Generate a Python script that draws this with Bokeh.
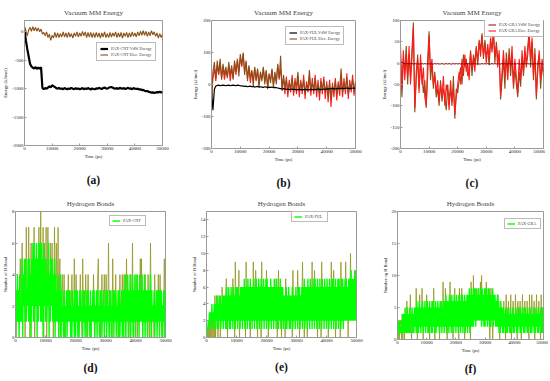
from bokeh.plotting import figure
from bokeh.layouts import row, column
from bokeh.models import Legend, LegendItem, FixedTicker, LinearAxis, Range1d
from bokeh.embed import file_html
from bokeh.resources import INLINE

# ---------------- data ----------------
time_ps = list(range(0, 50001, 500))      # energy sampling (ps)
hb_time_ps = list(range(0, 50000, 200))   # H-bond sampling (ps)

x_ticks = [0, 10000, 20000, 30000, 40000, 50000]
x_tick_labels = ["0", "10000", "20000", "30000", "40000", "50000"]

# (a) PAX-CNT energies (kJ/mol)
a_vdw = [20, -150, -300, -430, -560, -610, -630, -645, -620, -650, -630,
         -645, -625, -990, -1005, -990, -1000, -980, -960, -975, -940,
         -955, -970, -990, -1000, -985, -1005, -995, -1010, -990, -1000,
         -1010, -995, -1005, -985, -1000, -1010, -990, -1005, -995, -1010,
         -1000, -990, -1010, -995, -1005, -990, -1000, -1015, -995, -1005,
         -1010, -995, -1000, -985, -995, -1005, -990, -980, -995, -1000,
         -985, -975, -970, -985, -995, -1000, -990, -1005, -985, -995,
         -1000, -990, -1005, -995, -985, -1000, -995, -1010, -990, -1000,
         -1005, -1000, -1015, -1010, -1025, -1020, -1035, -1045, -1040, -1055,
         -1060, -1070, -1065, -1075, -1070, -1060, -1065, -1055, -1065, -1060]
a_elec = [100, 20, -70, 30, 80, 10, 90, 20, 80, 10, 70,
          0, 50, -40, -10, -70, 0, -100, -40, -150, -60,
          -110, -10, -100, -20, -100, -30, -90, 0, -90, -20,
          -100, -10, -90, -30, -110, -20, -80, 0, -90, -20,
          -80, 10, -70, 0, -100, -10, -90, -10, -100, -20,
          -100, -10, -90, -20, -110, -20, -90, 0, -100, -30,
          -100, -10, -90, -20, -80, 0, -100, -20, -90, -10,
          -110, -20, -80, -10, -100, -20, -90, 0, -80, -20,
          -90, 0, -70, 10, -60, 20, -60, 10, -80, 0,
          -70, 20, -50, 0, -80, -20, -110, -30, -100, -40]

# (b) PAX-FUL energies
b_vdw = [-20, -80, -15, -5, -3, -2, -4, -3, -2, -3, -4,
         -3, -2, -4, -3, -2, -3, -4, -2, -3, -4,
         -4, -5, -6, -5, -7, -6, -5, -7, -6, -8,
         -7, -6, -8, -7, -8, -9, -7, -8, -9, -8,
         -9, -8, -10, -9, -10, -11, -12, -13, -14, -13,
         -14, -15, -14, -16, -15, -14, -16, -15, -17, -16,
         -15, -16, -17, -16, -15, -16, -17, -16, -15, -16,
         -15, -16, -15, -14, -15, -16, -15, -14, -15, -14,
         -13, -14, -13, -12, -13, -14, -13, -12, -13, -12,
         -12, -13, -12, -11, -12, -13, -12, -11, -12, -11]
b_elec = [-60, 40, 70, 20, 75, 35, 80, 15, 65, 30, 55,
          20, 70, 30, 60, 15, 75, 40, 80, 25, 95,
          60, 100, 30, 75, 10, 60, 20, 45, -5, 55,
          15, 50, -10, 40, 10, 55, 0, 45, -15, 35,
          5, 50, -10, 40, 0, 65, 15, 90, -20, 30,
          -10, 15, -20, 5, -15, 20, -25, 10, -5, 40,
          -20, 5, -15, 15, -30, 0, -10, 45, -20, 5,
          -15, 20, -25, 0, -30, 10, -15, 15, -25, 0,
          -35, 5, -45, -5, -20, 10, -30, 0, -15, 50,
          -25, 5, -15, 20, -30, 0, -10, 15, -20, 5]
b_elec_red = [-40, 20, 50, 10, 60, 30, 70, 20, 55, 15, 45,
              25, 60, 10, 50, 20, 65, 30, 75, 40, 85,
              55, 95, 40, 70, 20, 55, 5, 40, 15, 50,
              10, 45, 0, 35, 20, 50, 10, 40, -5, 30,
              15, 45, 0, 35, 10, 60, 20, 50, -10, 20,
              -30, 25, -40, 15, -25, 30, -35, 20, -30, 25,
              -40, 15, -30, 30, -45, 10, -25, 25, -35, 20,
              -30, 30, -40, 15, -50, 20, -30, 25, -45, 10,
              -55, 15, -70, 5, -40, 20, -50, 10, -35, 25,
              -40, 20, -30, 35, -45, 15, -25, 30, -35, 10]

# (c) PAX-GRA energies
c_vdw = [3, 1, 0, -1, -2, -1, -2, -1, -1, -2, -1,
         -2, -1, -2, -2, -1, -2, -1, -2, -1, -2,
         -1, -2, -2, -1, -2, -1, -2, -2, -1, -2,
         -2, -1, -2, -1, -2, -2, -1, -2, -1, -2,
         -1, -2, -1, -2, -2, -1, -2, -1, -2, -1,
         -2, -1, -2, -1, -2, -2, -1, -2, -1, -2,
         -1, -2, -2, -1, -2, -1, -2, -1, -2, -2,
         -1, -2, -1, -2, -2, -1, -2, -1, -2, -1,
         -2, -1, -2, -2, -1, -2, -1, -2, -1, -2,
         -1, -2, -2, -1, -2, -1, -2, -1, -2, -2]
c_elec = [40, -60, 30, -40, 20, -30, 40, -50, 10, 85, -105,
          -20, 10, -70, 20, -50, -10, -80, -100, -30, 65,
          -20, 10, -50, -30, -70, -40, -90, -50, -80, -30,
          -100, -50, -70, -110, -40, -90, -60, -120, -80, -50,
          -20, -50, 10, -30, 20, -20, 0, -40, 25, -10,
          10, -20, 35, 5, 50, 15, 65, 20, 40, 0,
          45, 10, 60, 25, 70, 15, 40, -10, 30, -75,
          -20, 30, -30, 10, -40, 20, -10, 40, -50, 10,
          -30, -70, 10, -40, 30, -20, 40, -10, 20, 65,
          10, 60, -30, 20, -75, -20, 30, -40, 10, -20]
c_elec_brown = [20, -80, 10, -20, 40, -50, 20, -30, 30, 95, -115,
                -40, 20, -60, 0, -30, -70, -40, -105, 10, 75,
                -40, 0, -60, -20, -80, -60, -100, -40, -90, -60,
                -80, -110, -50, -90, -60, -100, -30, -130, -60, -70,
                -40, -10, -50, 20, -10, 10, -30, -20, 30, -30,
                20, 0, 40, -5, 55, 30, 70, 10, 55, 20,
                30, -5, 50, 35, 75, 0, 50, 10, 20, -85,
                -40, 10, -60, 25, -20, 35, -30, 20, -60, -10,
                -50, -80, -20, -55, 10, -30, 20, 0, 40, 75,
                -10, 50, -40, 35, -85, 0, 20, -60, 0, -30]

# H-bond counts, one hex digit per sample (200 ps apart)
d_green_str = ("0314130412" "1504251513" "2515140526" "1615260516" "2616150625"
               "1514260415" "2514150413" "1403140312" "0302130313" "1302031203"
               "0313020313" "1203130213" "0312030213" "1302130312" "0313021302"
               "1303120313" "0213031302" "1303021303" "0314031403" "1403140314"
               "0314130413" "1403140313" "0313140312" "1302130313" "0313021303")
d_olive_str = ("2032232352" "3633330373" "3373036333" "3703363337" "3383337063"
               "3703733363" "3630373363" "3703503342" "2420222242" "2202422252"
               "2422202242" "2052222420" "2422202222" "4202222452" "2202422242"
               "2422262022" "2052222420" "2202422242" "2420252222" "2042262022"
               "2420222252" "5202224222" "2420262022" "2042222242" "2422202252")
e_green_str = ("0112131324" "1324142514" "1525142515" "2516152615" "1625162516"
               "2616251626" "1627162617" "2617261627" "1627162716" "2716271627"
               "1726162716" "2617261726" "1627162615" "2516152615" "1526152516"
               "2516261526" "1627162617" "2617261627" "1726172617" "2617261726"
               "1726172617" "2716271627" "1726172716" "2727262727" "2827272827")
e_olive_str = ("1010202030" "2030502250" "3340436232" "4347306444" "4444734094"
               "4443804444" "4444409444" "4340444494" "4484404444" "4094444444"
               "8440444444" "4444447404" "8444404444" "4074444444" "4440844444"
               "4484404444" "9440444404" "4444449444" "8444404444" "4094444444"
               "4440444494" "4484404444" "4440944444" "4494440444" "a444444484")
f_green_str = ("0213121314" "1415141514" "1514251415" "2516151625" "1526152615"
               "2615162516" "1625161526" "2516261526" "1627162617" "2617261726"
               "1726172617" "2716271627" "1728172827" "2838283738" "3738283728"
               "2837283827" "2738273726" "2726151625" "1514251415" "2415142514"
               "1425141524" "1514251415" "2415142514" "1425141524" "1514251415")
f_olive_str = ("2030232040" "3303336333" "3373033333" "3383033373" "3383033333"
               "7333303333" "3383033333" "3303333393" "3383303333" "9333303383"
               "3333308333" "8333303333" "3333309333" "a333333383" "3393a33333"
               "3393333303" "8330333333" "3373306353" "3363307333" "6333703363"
               "3373306353" "6303733363" "3363307333" "7333603373" "3363307353")

d_green = [int(c, 16) for c in d_green_str]
d_olive = [int(c, 16) for c in d_olive_str]
e_green = [int(c, 16) for c in e_green_str]
e_olive = [int(c, 16) for c in e_olive_str]
f_green = [int(c, 16) for c in f_green_str]
f_olive = [int(c, 16) for c in f_olive_str]

# ---------------- styling ----------------
FONT = "Liberation Serif"
GRAY = "#9a9a9a"
BROWN = "#8a4f16"
RED = "#ff1a1a"
DARKRED = "#8b0000"
GREEN = "#00ff00"
OLIVE = "#94961e"


def make_fig(title, ylabel, yr, yticks, fw, fh, bl, br, bt, bb, panel, pstand):
    p = figure(frame_width=fw, frame_height=fh,
               min_border_left=bl, min_border_right=br,
               min_border_top=bt, min_border_bottom=bb,
               x_range=Range1d(0, 50000), y_range=Range1d(*yr),
               output_backend="svg", toolbar_location=None, title=title)
    p.title.text_font = FONT
    p.title.text_font_style = "normal"
    p.title.text_font_size = "7px"
    p.title.align = "center"
    p.title.standoff = 8
    p.outline_line_color = GRAY
    p.xgrid.visible = False
    p.ygrid.visible = False
    p.xaxis.ticker = FixedTicker(ticks=x_ticks)
    p.xaxis.major_label_overrides = dict(zip(x_ticks, x_tick_labels))
    p.yaxis.ticker = FixedTicker(ticks=yticks)
    p.yaxis.major_label_overrides = {v: str(v) for v in yticks}
    p.xaxis.axis_label = "Time (ps)"
    p.yaxis.axis_label = ylabel
    for ax in (p.xaxis, p.yaxis):
        ax.axis_line_color = GRAY
        ax.major_tick_line_color = GRAY
        ax.major_tick_in = 2
        ax.major_tick_out = 0
        ax.minor_tick_line_color = None
        ax.major_label_text_font = FONT
        ax.major_label_text_font_size = "4.9px"
        ax.major_label_text_color = "#1a1a1a"
        ax.axis_label_text_font = FONT
        ax.axis_label_text_font_size = "4.5px"
        ax.axis_label_text_font_style = "normal"
        ax.axis_label_text_color = "#1a1a1a"
        ax.major_label_standoff = 1
        ax.axis_label_standoff = 1
    # panel letter as the label of an extra, tick-less axis below
    lab = LinearAxis(axis_label=panel, ticker=FixedTicker(ticks=[]),
                     axis_line_color=None, major_tick_line_color=None,
                     minor_tick_line_color=None, major_tick_in=0,
                     major_tick_out=0, major_label_standoff=0,
                     major_label_text_font_size="0px",
                     axis_label_standoff=pstand,
                     axis_label_text_font=FONT,
                     axis_label_text_font_size="11.5px",
                     axis_label_text_font_style="bold",
                     axis_label_text_color="#111111")
    p.add_layout(lab, "below")
    return p


def add_legend(p, items, loc, pad=3):
    lg = Legend(items=[LegendItem(label=l, renderers=[r]) for l, r in items],
                location=loc)
    lg.label_text_font = FONT
    lg.label_text_font_size = "4.2px"
    lg.label_height = 5
    lg.glyph_height = 5
    lg.glyph_width = 8
    lg.label_standoff = 3
    lg.spacing = 1
    lg.padding = pad
    lg.margin = 0
    lg.border_line_color = "#777777"
    lg.border_line_width = 0.6
    p.add_layout(lg)


# (a)
pa = make_fig("Vacuum MM Energy", "Energy (kJ/mol)", (-2000, 200),
              [-2000, -1500, -1000, -500, 0], 138, 125, 17, 27, 20, 40, "(a)", 12)
ra_e = pa.line(time_ps, a_elec, line_color=BROWN, line_width=1.1)
ra_v = pa.line(time_ps, a_vdw, line_color="black", line_width=2.2)
add_legend(pa, [("PAX-CNT VdW Energy", ra_v), ("PAX-CNT Elec. Energy", ra_e)], (72, 84))

# (b)
pb = make_fig("Vacuum MM Energy", "Energy (kJ/mol)", (-200, 200),
              [-200, -100, 0, 100, 200], 144, 128, 18, 23, 17, 40, "(b)", 12)
pb.line(time_ps, b_elec_red, line_color=RED, line_width=1.1)
rb_e = pb.line(time_ps, b_elec, line_color=BROWN, line_width=1.1)
rb_v = pb.line(time_ps, b_vdw, line_color="black", line_width=1.2)
add_legend(pb, [("PAX-FUL VdW Energy", rb_v), ("PAX-FUL Elec. Energy", rb_e)], (74, 103))

# (c)
pc = make_fig("Vacuum MM Energy", "Energy (kJ/mol)", (-200, 100),
              [-200, -150, -100, -50, 0, 50, 100], 143, 128, 22, 2, 17, 40, "(c)", 12)
pc.line(time_ps, c_elec_brown, line_color=BROWN, line_width=1.1)
rc_e = pc.line(time_ps, c_elec, line_color=RED, line_width=1.1)
rc_v = pc.line(time_ps, c_vdw, line_color=DARKRED, line_width=1)
add_legend(pc, [("PAX-GRA VdW Energy", rc_v), ("PAX-GRA Elec. Energy", rc_e)], (84, 111))

# (d)
pd_ = make_fig("Hydrogen Bonds", "Number of H Bond", (0, 8),
               [0, 2, 4, 6, 8], 150, 126, 9, 23, 20, 34, "(d)", 8)
pd_.line(hb_time_ps, d_olive, line_color=OLIVE, line_width=0.8)
rd = pd_.line(hb_time_ps, d_green, line_color=GREEN, line_width=1.4)
add_legend(pd_, [("PAX-CNT", rd)], (94, 111), pad=2)

# (e)
pe = make_fig("Hydrogen Bonds", "Number of H Bond", (0, 15),
              [0, 2, 4, 6, 8, 10, 12, 14], 150, 126, 12, 23, 22, 32, "(e)", 7)
pe.line(hb_time_ps, e_olive, line_color=OLIVE, line_width=0.8)
re_ = pe.line(hb_time_ps, e_green, line_color=GREEN, line_width=1.4)
add_legend(pe, [("PAX-FUL", re_)], (85, 115), pad=2)

# (f)
pf = make_fig("Hydrogen Bonds", "Number og H Bond", (0, 20),
              [0, 5, 10, 15, 20], 146, 128, 16, 5, 20, 32, "(f)", 7)
pf.line(hb_time_ps, f_olive, line_color=OLIVE, line_width=0.8)
rf = pf.line(hb_time_ps, f_green, line_color=GREEN, line_width=1.4)
add_legend(pf, [("PAX-GRA", rf)], (107, 110), pad=2)

layout = column(row(pa, pb, pc), row(pd_, pe, pf))

open("out.html", "w").write(file_html(layout, INLINE))
